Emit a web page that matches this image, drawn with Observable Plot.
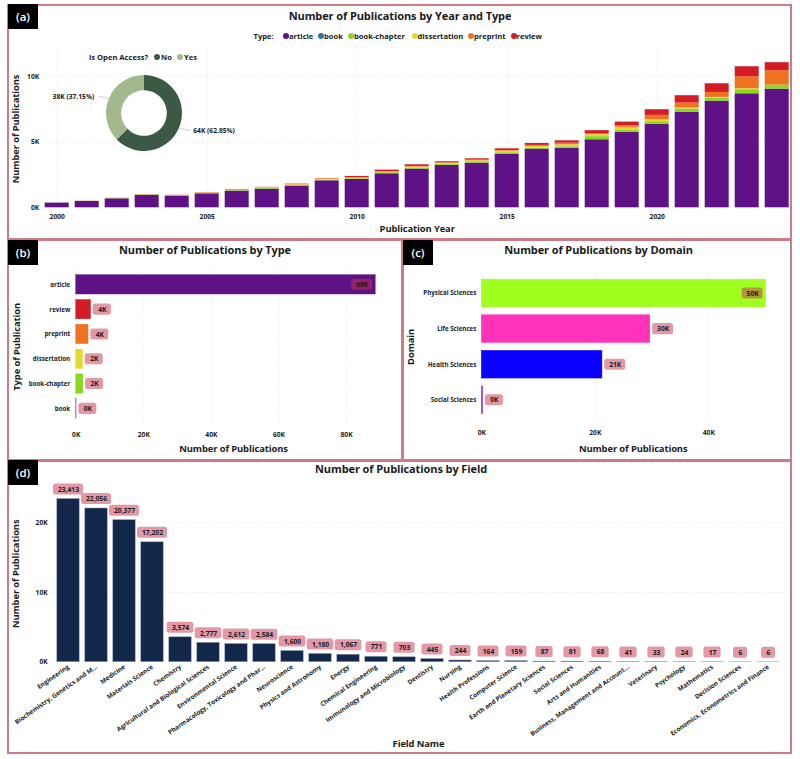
<!DOCTYPE html>
<html><head><meta charset="utf-8">
<script src="https://cdn.jsdelivr.net/npm/d3@7"></script>
<script src="https://cdn.jsdelivr.net/npm/@observablehq/plot@0.6"></script>
<style>
html,body{margin:0;padding:0;background:#fff;width:800px;height:759px;overflow:hidden;font-family:"Open Sans",sans-serif;color:#1a1a1a}
.box{position:absolute;border:2px solid #cf7a87;box-sizing:border-box}
.badge{position:absolute;background:#000;color:#fff;font-weight:600;font-size:11.5px;display:flex;align-items:center;justify-content:center;width:30px;height:25px;z-index:3}
.title{position:absolute;font-weight:700;font-size:11px;letter-spacing:-.1px;transform:translateX(-50%);white-space:nowrap;z-index:3;line-height:14px}
.lg{position:absolute;font-weight:700;font-size:7.6px;white-space:nowrap;line-height:10px;z-index:3}
.dot{position:absolute;width:6px;height:6px;border-radius:50%}
.p{position:absolute;z-index:2}
g[aria-label="x-axis label"],g[aria-label="y-axis label"]{font-size:9.4px;letter-spacing:-.1px}
</style></head><body>
<div id="root"></div>
<script>
// ---- data ----
const years = [2000,2001,2002,2003,2004,2005,2006,2007,2008,2009,2010,2011,2012,2013,2014,2015,2016,2017,2018,2019,2020,2021,2022,2023,2024];
const article      = [355,480,685,940,890,1065,1270,1420,1650,2055,2160,2590,2945,3225,3400,4085,4470,4540,5180,5735,6370,7285,8120,8680,9035];
const book         = [0,0,1,1,1,2,2,3,3,4,4,5,5,6,6,6,6,6,7,7,7,6,5,5,4];
const bookChapter  = [5,10,15,15,25,25,25,50,50,50,50,75,75,100,100,100,75,100,230,180,180,230,230,305,280];
const dissertation = [0,0,10,15,15,25,50,50,50,75,50,50,75,50,75,125,125,150,150,200,150,75,50,75,20];
const preprint     = [0,0,0,5,5,15,25,25,25,25,25,25,50,50,50,50,75,125,75,125,330,380,380,915,1100];
const review       = [5,10,10,15,15,15,25,10,25,25,100,125,125,75,100,125,150,180,230,280,430,560,660,760,610];
const typeKeys   = ["article","book","book-chapter","dissertation","preprint","review"];
const typeSeries = [article,book,bookChapter,dissertation,preprint,review];
const typeColors = ["#5f1285","#2f6fc0","#86d91e","#e4d92e","#ef7220","#d31c24"];

const oaKeys   = ["No","Yes"];
const oaValues = [64000,38000];
const oaLabels = ["64K (62.85%)","38K (37.15%)"];
const oaShares = [62.85,37.15];
const oaColors = ["#3a5a45","#a3b88c"];

const byTypeNames  = ["article","review","preprint","dissertation","book-chapter","book"];
const byTypeValues = [88630,4400,3650,2000,2100,100];

const domainNames  = ["Physical Sciences","Life Sciences","Health Sciences","Social Sciences"];
const domainValues = [50100,29700,21260,230];
const domainColors = ["#9fff1f","#ff33bb","#0a00ff","#8a2be2"];

const fieldNames = ["Engineering","Biochemistry, Genetics and M...","Medicine","Materials Science","Chemistry","Agricultural and Biological Sciences","Environmental Science","Pharmacology, Toxicology and Phar...","Neuroscience","Physics and Astronomy","Energy","Chemical Engineering","Immunology and Microbiology","Dentistry","Nursing","Health Professions","Computer Science","Earth and Planetary Sciences","Social Sciences","Arts and Humanities","Business, Management and Account...","Veterinary","Psychology","Mathematics","Decision Sciences","Economics, Econometrics and Finance"];
const fieldValues = [23413,22056,20377,17202,3574,2777,2612,2584,1600,1180,1067,771,703,445,244,164,159,87,81,68,41,33,24,17,6,6];

// ---- helpers ----
const root = document.getElementById("root");
const FONT = '"Open Sans",sans-serif';
const INK = "#1a1a1a";
const GRID = {stroke:"#cfcfcf",strokeOpacity:.55,strokeDasharray:"1,2"};
const PILL = {fill:"#c8324f",fillOpacity:.5,rx:2.5};
const kFmt = d => d/1000+"K";
const shortK = v => Math.round(v/1000)+"K";
function place(plot,left,top){plot.classList.add("p");plot.style.left=left+"px";plot.style.top=top+"px";root.appendChild(plot);return plot;}
function html(cls,text,css){const e=document.createElement("div");e.className=cls;e.textContent=text;Object.assign(e.style,css);root.appendChild(e);return e;}
const baseStyle = {fontFamily:FONT,fontSize:"6.7px",fontWeight:700,background:"transparent",overflow:"visible",color:INK};

// frames
html("box","",{left:"7px",top:"3.5px",width:"785px",height:"236.5px"});
html("box","",{left:"7px",top:"239px",width:"396px",height:"222px"});
html("box","",{left:"402px",top:"239px",width:"390px",height:"222px"});
html("box","",{left:"7px",top:"460px",width:"785px",height:"294px"});
html("badge","(a)",{left:"8px",top:"4px"});
html("badge","(b)",{left:"8px",top:"240px"});
html("badge","(c)",{left:"403px",top:"240px"});
html("badge","(d)",{left:"8px",top:"460px"});
html("title","Number of Publications by Year and Type",{left:"400px",top:"9px"});
html("title","Number of Publications by Type",{left:"205px",top:"243px"});
html("title","Number of Publications by Domain",{left:"598.5px",top:"243px"});
html("title","Number of Publications by Field",{left:"401px",top:"462px"});

// legends
html("lg","Type:",{left:"253.5px",top:"30.5px"});
const typeLegendX = [283,318,348,411.5,468,510.5];
typeKeys.forEach((k,i)=>{
  html("lg",k,{left:(typeLegendX[i]+6)+"px",top:"30.5px"});
  html("dot","",{left:typeLegendX[i]+"px",top:"32.5px",background:typeColors[i],zIndex:3});
});
html("lg","is Open Access?",{left:"89px",top:"52px"});
[["No",154],["Yes",177]].forEach(([k,x],i)=>{
  html("lg",k,{left:(x+7)+"px",top:"52px"});
  html("dot","",{left:x+"px",top:"54px",background:oaColors[i],zIndex:3});
});

// ---- (a) stacked bars ----
const rows = typeKeys.flatMap((t,j)=>years.map((y,i)=>({year:y,type:t,value:typeSeries[j][i]})));
const yearTicks = years.filter(y=>y%5===0);
place(Plot.plot({
  width:795,height:234,marginLeft:38.7,marginRight:0.3,marginTop:45.7,marginBottom:30.7,
  style:baseStyle,
  x:{type:"band",domain:years,padding:.2,round:false},
  y:{domain:[0,12000]},
  color:{domain:typeKeys,range:typeColors},
  marks:[
    Plot.gridX(yearTicks,{...GRID}),
    Plot.gridY([5000,10000],{...GRID}),
    Plot.barY(rows,{x:"year",y:"value",fill:"type",order:typeKeys}),
    Plot.axisX({ticks:yearTicks,tickFormat:String,tickSize:0,tickPadding:6,label:"Publication Year",labelAnchor:"center",labelArrow:"none",labelOffset:24,fill:INK}),
    Plot.axisY({ticks:[0,5000,10000],tickFormat:kFmt,tickSize:0,tickPadding:0,label:"Number of Publications",labelAnchor:"center",labelArrow:"none",labelOffset:27,fill:INK})
  ]
}),0,4);

// ---- donut overlay ----
const pieArcs = d3.pie().sort(null).value(d=>d)(oaValues);
const mid = a => (a.startAngle+a.endAngle)/2;
const leader = pieArcs.flatMap((a,i)=>{
  const s=Math.sin(mid(a)),c=Math.cos(mid(a));
  return [{i,px:s,py:c},{i,px:s*1.3,py:c*1.15}];
});
const labelPts = pieArcs.map((a,i)=>{
  const s=Math.sin(mid(a)),c=Math.cos(mid(a));
  return {label:oaLabels[i],px:s*1.3+(s>0?.06:-.1),py:c*1.15,anchor:s>0?"start":"end"};
});
const donutMark = (index,{x,y})=>{
  const unit = x(1)-x(0);
  const arc = d3.arc().innerRadius(unit*.6).outerRadius(unit);
  const g = d3.create("svg:g").attr("transform",`translate(${x(0)},${y(0)})`).attr("aria-label","donut");
  g.selectAll("path").data(pieArcs).join("path").attr("d",arc).attr("fill",(d,i)=>oaColors[i]);
  return g.node();
};
place(Plot.plot({
  width:266,height:114,margin:0,style:{...baseStyle,zIndex:4},
  x:{domain:[-3.5,3.5],axis:null},y:{domain:[-1.5,1.5],axis:null},
  marks:[
    donutMark,
    Plot.line(leader,{x:"px",y:"py",z:"i",stroke:"#bdbdbd",strokeWidth:.7}),
    Plot.text(labelPts.filter(d=>d.anchor==="start"),{x:"px",y:"py",text:"label",textAnchor:"start",dx:1,fill:INK}),
    Plot.text(labelPts.filter(d=>d.anchor==="end"),{x:"px",y:"py",text:"label",textAnchor:"end",dx:-1,fill:INK})
  ]
}),11,56.3);

// ---- horizontal bar panels ----
function hPanel({names,values,colors,left,top,width,height,ml,mr,mt,mb,xmax,ticks,ylabel,band,ylo,xlo,insideAbove,typ}){
  const data = names.map((n,i)=>({name:n,value:values[i],label:shortK(values[i])}));
  const widthOf = s => s.length>2?21:18;
  const pills=[],texts=[];
  const vInset=(band-11)/2;
  for(const w of [18,21]){
    const outer=data.filter(d=>widthOf(d.label)===w&&d.value<insideAbove);
    const inner=data.filter(d=>widthOf(d.label)===w&&d.value>=insideAbove);
    pills.push(Plot.barX(outer,{y:"name",x1:"value",x2:"value",insetLeft:2.3,insetRight:-(2.3+w),insetTop:vInset,insetBottom:vInset,...PILL}));
    pills.push(Plot.barX(inner,{y:"name",x1:"value",x2:"value",insetLeft:-(3+w),insetRight:3,insetTop:vInset,insetBottom:vInset,...PILL}));
    texts.push(Plot.text(outer,{y:"name",x:"value",text:"label",dx:2.3+w/2,fill:INK}));
    texts.push(Plot.text(inner,{y:"name",x:"value",text:"label",dx:-(3+w/2),fill:INK}));
  }
  return place(Plot.plot({
    width,height,marginLeft:ml,marginRight:mr,marginTop:mt,marginBottom:mb,style:baseStyle,
    x:{domain:[0,xmax]},y:{domain:names,padding:.22,round:false},
    color:{domain:names,range:colors},
    marks:[
      Plot.gridX(ticks,{...GRID}),
      Plot.barX(data,{y:"name",x:"value",fill:"name",stroke:"name",strokeWidth:.4}),
      ...pills,...texts,
      Plot.axisX({ticks,tickFormat:kFmt,tickSize:0,tickPadding:8,label:"Number of Publications",labelAnchor:"center",labelArrow:"none",labelOffset:xlo,fill:INK}),
      Plot.axisY({tickSize:0,tickPadding:typ,fontSize:6.2,label:ylabel,labelAnchor:"center",labelArrow:"none",labelOffset:ylo,fill:INK})
    ]
  }),left,top);
}
const byTypeColors = byTypeNames.map(n=>typeColors[typeKeys.indexOf(n)]);
hPanel({names:byTypeNames,values:byTypeValues,colors:byTypeColors,left:0,top:240,width:402,height:220,ml:75.7,mr:11.7,mt:29.2,mb:36.5,xmax:93100,ticks:[0,20000,40000,60000,80000],ylabel:"Type of Publication",band:19.3,ylo:63,xlo:28,insideAbove:60000,typ:6});
hPanel({names:domainNames,values:domainValues,colors:domainColors,left:402,top:240,width:390,height:220,ml:79.3,mr:7.9,mt:31.3,mb:38.5,xmax:53360,ticks:[0,20000,40000],ylabel:"Domain",band:27.7,ylo:74,xlo:30,insideAbove:45000,typ:5.5});

// ---- (d) by field ----
const fieldRows = fieldNames.map((n,i)=>({name:n,value:fieldValues[i],label:d3.format(",")(fieldValues[i])}));
const pillW = {1:14,2:17.3,3:21,5:26.7,6:30};
const FB = 22.4;
const fieldPills = Object.entries(pillW).map(([len,w])=>Plot.barY(fieldRows.filter(d=>d.label.length===+len),{
  x:"name",y1:"value",y2:"value",insetLeft:(FB-w)/2,insetRight:(FB-w)/2,insetTop:-15,insetBottom:4,...PILL}));
place(Plot.plot({
  width:792,height:293,marginLeft:51.2,marginRight:7.2,marginTop:24.9,marginBottom:91.3,style:baseStyle,
  x:{domain:fieldNames,padding:.2,round:false},y:{domain:[0,25370]},
  marks:[
    Plot.gridY([10000,20000],{...GRID}),
    Plot.barY(fieldRows,{x:"name",y:"value",fill:"#12284b",stroke:"#8a9ab0",strokeWidth:.5}),
    ...fieldPills,
    Plot.text(fieldRows,{x:"name",y:"value",text:"label",dy:-9.5,fill:INK}),
    Plot.axisX({tickSize:0,tickPadding:4,tickRotate:-35,fontSize:6.3,label:"Field Name",labelAnchor:"center",labelArrow:"none",labelOffset:85,fill:INK}),
    Plot.axisY({ticks:[0,10000,20000],tickFormat:kFmt,tickSize:0,tickPadding:4,label:"Number of Publications",labelAnchor:"center",labelArrow:"none",labelOffset:39,fill:INK})
  ]
}),0,460);
</script>
</body></html>
